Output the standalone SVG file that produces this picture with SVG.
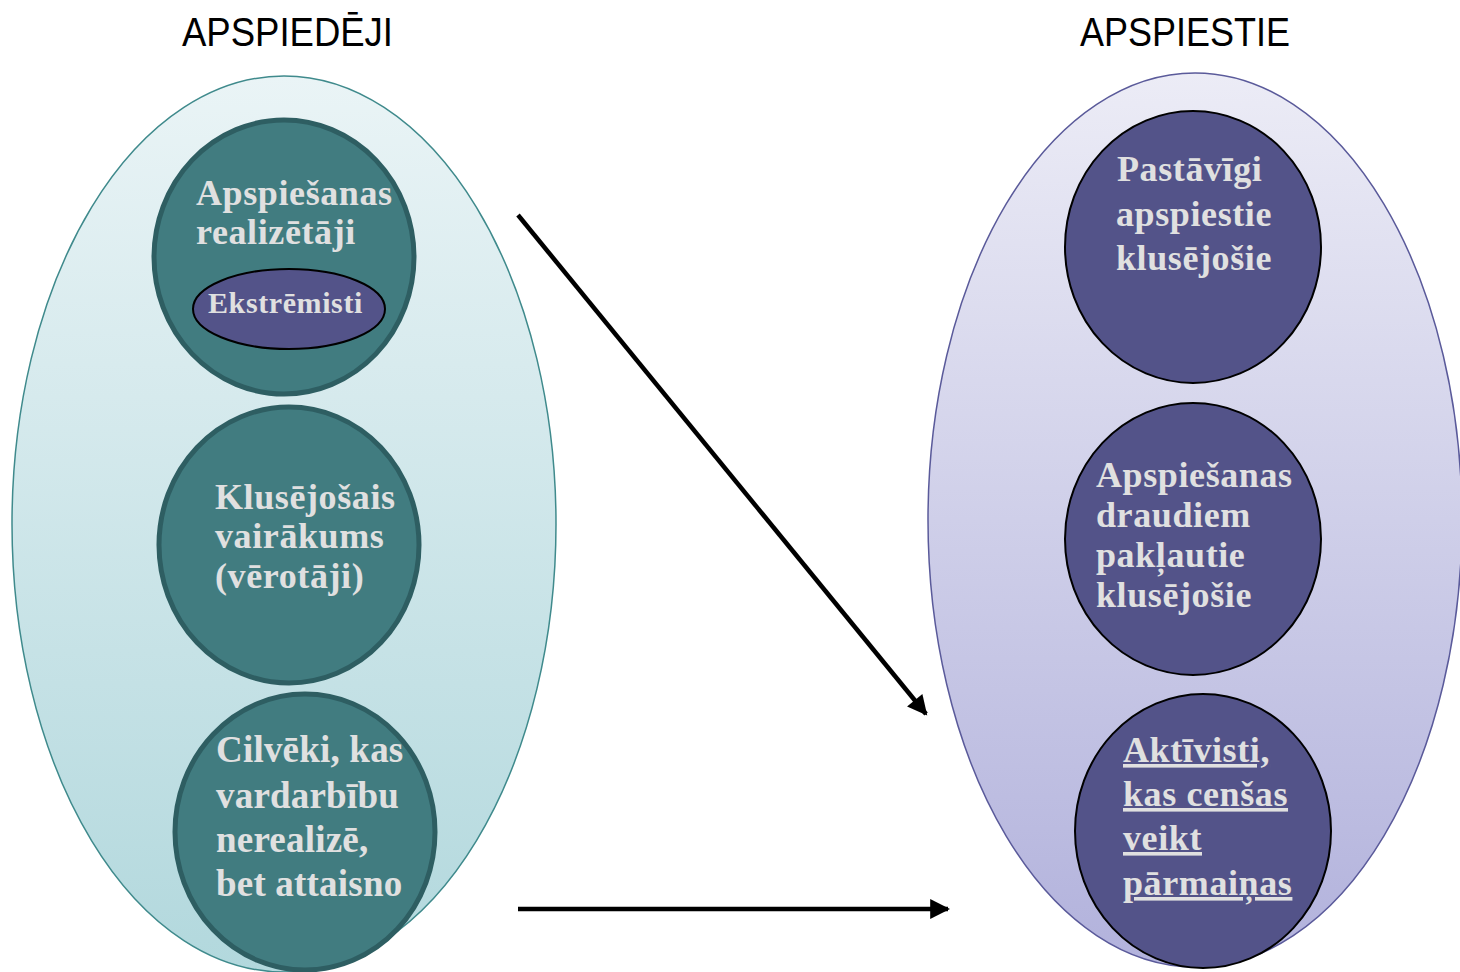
<svg xmlns="http://www.w3.org/2000/svg" width="1460" height="972" viewBox="0 0 1460 972">
<defs>
<linearGradient id="gL" x1="0" y1="0" x2="0" y2="1">
<stop offset="0" stop-color="#eaf4f6"/>
<stop offset="1" stop-color="#b2d8dd"/>
</linearGradient>
<linearGradient id="gR" x1="0" y1="0" x2="0" y2="1">
<stop offset="0" stop-color="#ececf6"/>
<stop offset="1" stop-color="#b2b2dc"/>
</linearGradient>
<marker id="ah" viewBox="0 0 10 10" refX="9" refY="5" markerWidth="5" markerHeight="4.4" markerUnits="strokeWidth" orient="auto">
<path d="M0,0 L10,5 L0,10 z" fill="#000"/>
</marker>
<style>
.title{font-family:"Liberation Sans",Arial,sans-serif;font-size:40px;fill:#000}
.t{font-family:"Liberation Serif","Times New Roman",serif;font-weight:bold;font-size:36px;letter-spacing:0.6px;fill:#e0e0e0}
.t37{font-size:37px;letter-spacing:0.2px}
.teal{fill:#417c80;stroke:#2e5e62;stroke-width:5}
.violet{fill:#535389;stroke:#000;stroke-width:2}
.conn{stroke:#000;stroke-width:4.5;fill:none;marker-end:url(#ah)}
</style>
</defs>
<rect width="1460" height="972" fill="#fff"/>
<g id="title-left"><text class="title" x="182" y="46" textLength="211" lengthAdjust="spacingAndGlyphs">APSPIEDĒJI</text></g>
<g id="title-right"><text class="title" x="1080" y="46" textLength="210" lengthAdjust="spacingAndGlyphs">APSPIESTIE</text></g>
<g id="group-left"><ellipse cx="284" cy="524" rx="272" ry="448" fill="url(#gL)" stroke="#3f8a8c" stroke-width="1.5"/></g>
<g id="group-right"><ellipse cx="1195" cy="520" rx="267" ry="447" fill="url(#gR)" stroke="#5a5a9a" stroke-width="1.5"/></g>
<g id="node-realizetaji">
<ellipse class="teal" cx="284" cy="257" rx="130" ry="137"/>
<text class="t" x="196" y="205">Apspiešanas</text>
<text class="t" x="196" y="244">realizētāji</text>
</g>
<g id="node-ekstremisti">
<ellipse class="violet" cx="289" cy="309" rx="96" ry="40"/>
<text class="t" x="208" y="313" style="font-size:30px">Ekstrēmisti</text>
</g>
<g id="node-klusejosais">
<ellipse class="teal" cx="289" cy="545" rx="130" ry="138"/>
<text class="t" x="215" y="509">Klusējošais</text>
<text class="t" x="215" y="548">vairākums</text>
<text class="t" x="215" y="588">(vērotāji)</text>
</g>
<g id="node-cilveki">
<ellipse class="teal" cx="305" cy="832" rx="130" ry="138"/>
<text class="t t37" x="216" y="762">Cilvēki, kas</text>
<text class="t t37" x="216" y="808">vardarbību</text>
<text class="t t37" x="216" y="852">nerealizē,</text>
<text class="t t37" x="216" y="896">bet attaisno</text>
</g>
<g id="node-pastavigi">
<ellipse class="violet" cx="1193" cy="247" rx="128" ry="136"/>
<text class="t" x="1117" y="181">Pastāvīgi</text>
<text class="t" x="1116" y="226">apspiestie</text>
<text class="t" x="1116" y="270">klusējošie</text>
</g>
<g id="node-draudiem">
<ellipse class="violet" cx="1193" cy="539" rx="128" ry="136"/>
<text class="t" x="1096" y="487">Apspiešanas</text>
<text class="t" x="1096" y="527">draudiem</text>
<text class="t" x="1096" y="567">pakļautie</text>
<text class="t" x="1096" y="607">klusējošie</text>
</g>
<g id="node-aktivisti">
<ellipse class="violet" cx="1203" cy="831" rx="128" ry="137"/>
<text class="t" x="1123" y="762" text-decoration="underline">Aktīvisti,</text>
<text class="t" x="1123" y="806" text-decoration="underline">kas cenšas</text>
<text class="t" x="1123" y="850" text-decoration="underline">veikt</text>
<text class="t" x="1123" y="895" text-decoration="underline">pārmaiņas</text>
</g>
<g id="connectors">
<line class="conn" x1="518" y1="215" x2="926" y2="714"/>
<line class="conn" x1="518" y1="909" x2="948" y2="909"/>
</g>
</svg>
